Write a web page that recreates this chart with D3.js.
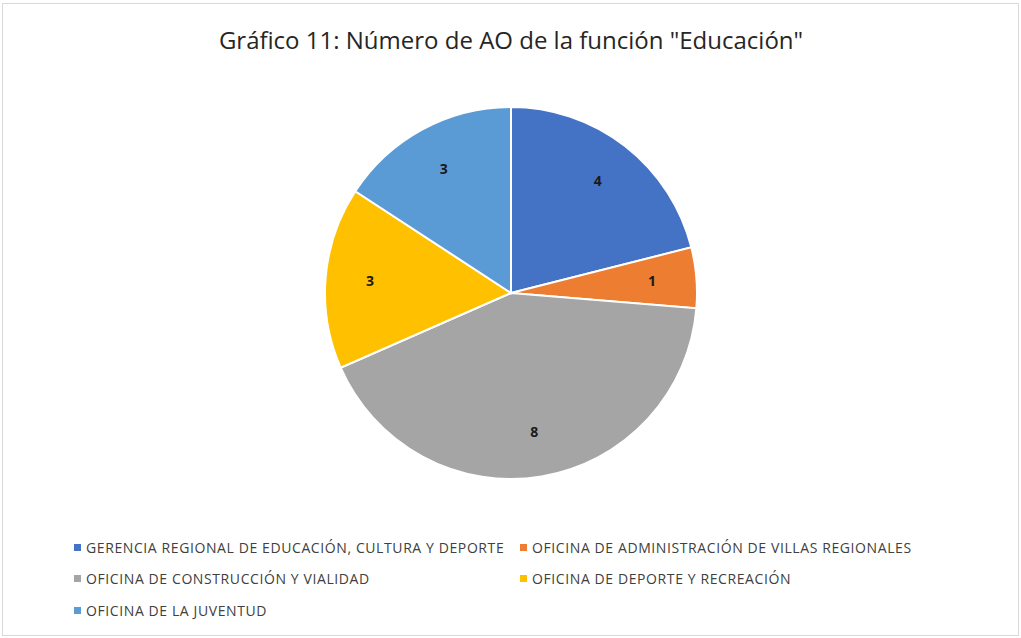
<!DOCTYPE html>
<html>
<head>
<meta charset="utf-8">
<script src="https://cdn.jsdelivr.net/npm/d3@7"></script>
<style>
  body { margin: 0; background: #fff; }
  svg { display: block; font-family: "Open Sans", "Liberation Sans", sans-serif; }
</style>
</head>
<body>
<script>
// Data
var categories = [
    "GERENCIA REGIONAL DE EDUCACIÓN, CULTURA Y DEPORTE",
    "OFICINA DE ADMINISTRACIÓN DE VILLAS REGIONALES",
    "OFICINA DE CONSTRUCCIÓN Y VIALIDAD",
    "OFICINA DE DEPORTE Y RECREACIÓN",
    "OFICINA DE LA JUVENTUD"
];
var values = [4, 1, 8, 3, 3];
var colors = ["#4472C4", "#ED7D31", "#A5A5A5", "#FFC000", "#5B9BD5"];
var title = "Gráfico 11: Número de AO de la función \"Educación\"";

var width = 1021, height = 638;
var cx = 511, cy = 293, radius = 186;

var svg = d3.select("body").append("svg")
    .attr("width", width)
    .attr("height", height);

// chart frame
svg.append("rect")
    .attr("x", 2.5).attr("y", 3.5)
    .attr("width", width - 5).attr("height", height - 6)
    .attr("fill", "#fff")
    .attr("stroke", "#d9d9d9");

svg.append("text")
    .attr("x", cx)
    .attr("y", 49)
    .attr("text-anchor", "middle")
    .attr("font-size", 24)
    .attr("fill", "#262626")
    .text(title);

var data = categories.map(function (c, i) { return {name: c, value: values[i], color: colors[i]}; });

var pie = d3.pie().sort(null).value(function (d) { return d.value; });
var arc = d3.arc().innerRadius(0).outerRadius(radius);
var labelArc = d3.arc().innerRadius(radius * 0.76).outerRadius(radius * 0.76);

var g = svg.append("g").attr("transform", "translate(" + cx + "," + cy + ")");

var slices = g.selectAll(".slice")
    .data(pie(data))
    .enter().append("g")
    .attr("class", "slice");

slices.append("path")
    .attr("d", arc)
    .attr("fill", function (d) { return d.data.color; })
    .attr("stroke", "#fff")
    .attr("stroke-width", 2);

slices.append("text")
    .attr("transform", function (d) { return "translate(" + labelArc.centroid(d) + ")"; })
    .attr("text-anchor", "middle")
    .attr("dy", "0.35em")
    .attr("font-size", 14)
    .attr("font-weight", "bold")
    .attr("fill", "#1a1a1a")
    .text(function (d) { return d.data.value; });

// Legend, two columns
var legend = svg.append("g").attr("class", "legend");
var colX = [74, 520], rowY = [548, 579, 611];

var items = legend.selectAll(".item")
    .data(data)
    .enter().append("g")
    .attr("class", "item")
    .attr("transform", function (d, i) {
        return "translate(" + colX[i % 2] + "," + rowY[Math.floor(i / 2)] + ")";
    });

items.append("rect")
    .attr("x", 0).attr("y", -4)
    .attr("width", 7).attr("height", 7)
    .attr("fill", function (d) { return d.color; });

items.append("text")
    .attr("x", 12)
    .attr("y", 0)
    .attr("dy", "0.35em")
    .attr("font-size", 14)
    .attr("letter-spacing", 0.6)
    .attr("fill", "#404040")
    .text(function (d) { return d.name; });
</script>
</body>
</html>
